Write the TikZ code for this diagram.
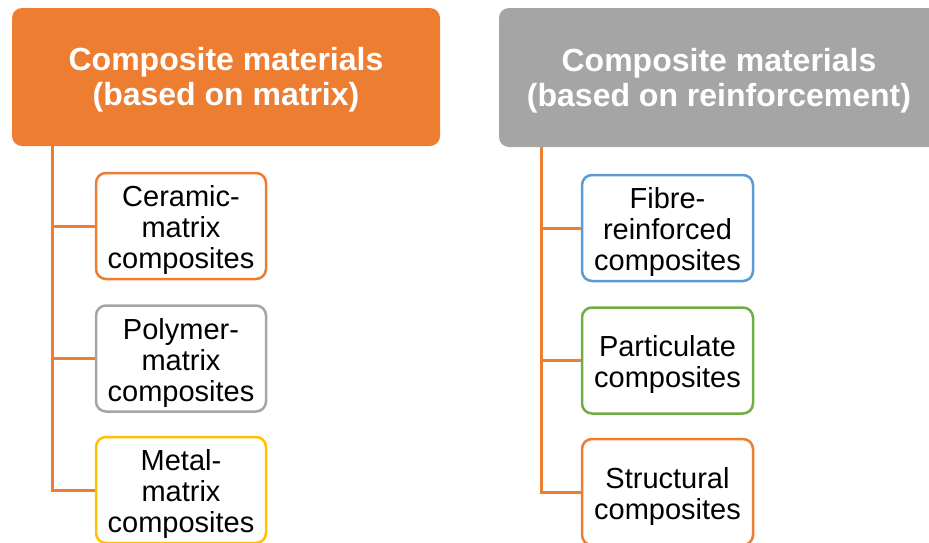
\documentclass[tikz,border=0pt]{standalone}
\usepackage{fontspec}
\setmainfont{Liberation Sans}
\definecolor{accorange}{HTML}{ED7D31}
\definecolor{accgray}{HTML}{A5A5A5}
\definecolor{accblue}{HTML}{5B9BD5}
\definecolor{accgreen}{HTML}{70AD47}
\definecolor{accyellow}{HTML}{FFC000}
% strut that lowers a multi-line label a little inside its box
\newcommand{\lowerstrut}{\rule{0pt}{29pt}}
\begin{document}
\begin{tikzpicture}[x=1pt,y=-1pt,
  header/.style={rectangle, rounded corners=10pt, fill=#1, draw=none,
    text=white, align=center, inner sep=0pt,
    font=\fontsize{32}{35}\selectfont\bfseries},
  leaf/.style={rectangle, rounded corners=10pt, draw=#1, line width=2.5pt,
    fill=white, align=center, inner sep=0pt, minimum width=170pt,
    minimum height=106pt, font=\fontsize{29}{31}\selectfont},
  conn/.style={draw=accorange, line width=3pt}]
\clip (0,0) rectangle (929,542);
\useasboundingbox (0,0) rectangle (929,542);

% column headers
\node[header=accorange, minimum width=428pt, minimum height=138pt] (hL) at (226,77)
  {\lowerstrut Composite materials\\(based on matrix)};
\node[header=accgray, minimum width=440pt, minimum height=139pt] (hR) at (719,77.5)
  {\lowerstrut Composite materials\\(based on reinforcement)};

% matrix-based classes
\node[leaf=accorange] (l1) at (181,226) {\lowerstrut Ceramic-\\matrix\\composites};
\node[leaf=accgray] (l2) at (181,358.5) {\lowerstrut Polymer-\\matrix\\composites};
\node[leaf=accyellow] (l3) at (181,490) {\lowerstrut Metal-\\matrix\\composites};

% reinforcement-based classes
\node[leaf=accblue, minimum width=171pt] (r1) at (667.5,228) {\lowerstrut Fibre-\\reinforced\\composites};
\node[leaf=accgreen, minimum width=171pt] (r2) at (667.5,360.5) {\lowerstrut Particulate\\composites};
\node[leaf=accorange, minimum width=171pt] (r3) at (667.5,492) {\lowerstrut Structural\\composites};

% tree connectors
\coordinate (tL) at ([xshift=41pt]hL.south west);
\coordinate (tR) at ([xshift=43pt]hR.south west);
\draw[conn] (tL) |- (l3.west);
\draw[conn] (l1.west) -- (l1.west -| tL);
\draw[conn] (l2.west) -- (l2.west -| tL);
\draw[conn] (tR) |- (r3.west);
\draw[conn] (r1.west) -- (r1.west -| tR);
\draw[conn] (r2.west) -- (r2.west -| tR);
\end{tikzpicture}
\end{document}
